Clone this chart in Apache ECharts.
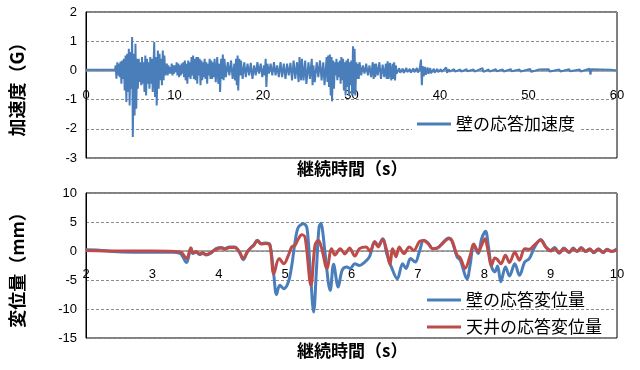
<!DOCTYPE html>
<html><head><meta charset="utf-8">
<script src="https://cdn.jsdelivr.net/npm/echarts@6/dist/echarts.min.js"></script>
<style>html,body{margin:0;padding:0;background:#fff}#c{width:640px;height:370px}</style>
</head><body><div id="c"></div>
<script>
// ---- data ----
const accName = '壁の応答加速度';
const dispNames = ['壁の応答変位量', '天井の応答変位量'];
const accTicksX = [0, 60, 10];      // min, max, interval
const accTicksY = [-3, 2, 1];
const dispTicksX = [2, 10, 1];
const dispTicksY = [-15, 10, 5];

// wall acceleration [time s, G]
const wallAccel = [
[0,0.02],[3.28,0.02],
[3.35,0.17],[3.44,-0.28],[3.54,0.28],[3.63,-0.17],[3.72,0.23],[3.81,-0.23],[3.91,0.30],[4.00,-0.46],[4.10,0.34],[4.19,-0.29],[4.28,0.40],[4.37,-0.69],[4.47,0.51],[4.56,-1.08],[4.66,0.57],[4.75,-0.74],[4.84,0.74],[4.93,-1.20],[5.03,0.63],[5.12,-0.63],[5.21,1.14],[5.29,-2.28],[5.40,0.57],[5.49,-1.54],[5.59,0.91],[5.68,-1.31],[5.77,0.40],[5.86,-0.63],[5.96,0.40],[6.05,-0.40],[6.15,0.28],[6.24,-0.51],[6.33,0.46],[6.42,-0.46],[6.52,0.28],[6.61,-0.74],[6.70,0.51],[6.79,-0.86],[6.89,0.40],[6.98,-0.46],[7.08,0.28],[7.17,-0.63],[7.26,0.46],[7.35,-0.46],[7.45,0.40],[7.54,-0.74],[7.71,0.97],[7.80,-0.91],[7.90,0.46],[7.99,-1.20],[8.12,0.68],[8.21,-0.63],[8.31,0.57],[8.40,-0.34],[8.49,0.40],[8.58,-0.51],[8.68,0.68],[8.77,-0.34],[8.86,0.51],[8.95,-0.17],
[9.13,0.23],[9.22,-0.17],[9.31,0.17],[9.40,-0.11],[9.50,0.11],[9.59,-0.11],[9.69,0.23],[9.78,-0.17],[9.87,0.17],[9.96,-0.11],[10.06,0.17],[10.15,-0.06],[10.24,0.28],[10.33,-0.17],[10.43,0.23],[10.52,-0.23],[10.62,0.17],[10.71,-0.17],[10.80,0.23],[10.89,-0.11],[10.99,0.28],[11.08,-0.23],[11.17,0.34],[11.26,-0.34],[11.36,0.23],[11.45,-0.46],[11.55,0.34],[11.64,-0.23],[11.73,0.28],[11.82,-0.29],[11.92,0.46],[12.01,-0.17],[12.10,0.51],[12.19,-0.29],[12.29,0.40],[12.38,-0.34],[12.48,0.46],[12.57,-0.46],[12.66,0.46],[12.75,-0.17],[12.85,0.40],[12.94,-0.51],[13.04,0.34],[13.13,-0.34],[13.22,0.28],[13.31,-0.23],[13.41,0.40],[13.50,-0.29],[13.60,0.28],[13.69,-0.46],[13.78,0.23],[13.87,-0.17],[13.97,0.40],[14.06,-0.29],[14.15,0.34],[14.24,-0.29],[14.34,0.28],[14.43,-0.23],
[14.53,0.40],[14.66,-0.40],[14.83,0.46],[14.95,-0.46],[15.09,0.23],[15.15,-0.74],[15.27,0.40],[15.36,-0.29],[15.46,0.54],[15.55,-0.34],[15.64,0.40],[15.80,-0.23],[16.02,0.28],[16.20,-0.17],[16.39,0.34],[16.57,-0.29],[16.76,0.23],[16.85,-0.34],[16.95,0.40],[17.04,-0.51],[17.13,0.51],[17.20,-0.69],[17.32,0.40],[17.42,-0.17],[17.51,0.34],[17.70,-0.29],[17.88,0.28],[18.06,-0.23],[18.25,0.23],[18.44,-0.17],[18.62,0.26],[18.81,-0.29],[19.00,0.17],[19.18,-0.17],[19.37,0.28],[19.55,-0.11],[19.74,0.23],[19.92,-0.23],[20.11,0.17],[20.20,-0.17],[20.30,0.40],[20.38,-0.57],[20.50,0.23],[20.67,-0.11],[20.86,0.23],[21.05,-0.17],[21.24,0.28],[21.42,-0.17],[21.60,0.17],[21.79,-0.23],[21.98,0.28],[22.16,-0.23],[22.35,0.23],[22.54,-0.29],[22.72,0.23],[22.91,-0.17],[23.10,0.26],[23.28,-0.34],[23.46,0.34],[23.65,-0.29],[23.84,0.28],[24.02,-0.40],[24.12,0.46],[24.30,-0.34],[24.40,0.40],[24.58,-0.34],[24.77,0.34],[24.90,-0.46],[25.14,0.28],[25.30,-0.29],[25.51,0.40],[25.60,-0.51],
[25.70,0.17],[25.85,-0.40],[26.07,0.28],[26.25,-0.23],[26.44,0.34],[26.62,-0.34],[26.81,0.28],[26.95,-0.51],[27.19,0.46],[27.28,-0.40],[27.37,0.51],[27.46,-0.57],[27.56,0.54],[27.65,-0.86],[27.75,0.46],[27.80,-1.06],[27.93,0.34],[28.02,-0.63],[28.12,0.28],[28.21,-0.17],[28.30,0.40],[28.40,-0.34],[28.49,0.28],[28.58,-0.23],[28.68,0.34],[28.77,-0.46],[28.86,0.46],[28.95,-0.34],[29.05,0.40],[29.14,-0.69],[29.24,0.28],[29.33,-0.86],[29.42,0.34],[29.51,-0.57],[29.61,0.40],[29.70,-0.86],[29.79,0.28],[29.88,-0.51],[29.98,0.34],[30.07,-0.86],[30.17,0.83],[30.26,-0.80],[30.35,0.74],[30.44,-0.86],[30.54,0.28],[30.63,-0.29],[30.73,0.23],[30.82,-0.29],[30.91,0.28],[31.10,-0.17],[31.28,0.17],[31.47,-0.11],[31.66,0.23],[31.85,-0.17],[32.03,0.17],[32.21,-0.23],[32.40,0.28],[32.50,-0.29],[32.59,0.23],[32.68,-0.23],[32.77,0.23],[32.96,-0.17],[33.15,0.28],[33.33,-0.29],[33.52,0.20],[33.70,-0.23],[33.89,0.23],[33.98,-0.29],[34.08,0.31],[34.20,-0.29],[34.34,0.26],[34.50,-0.34],[34.64,0.23],[34.73,-0.29],[34.82,0.28],[34.92,-0.34],[35.01,0.17],[35.10,-0.11],
[35.4,0.08],[35.5,-0.08],[35.8,0.06],[35.9,-0.09],[36.2,0.08],[36.3,-0.06],[36.6,0.05],[36.7,-0.08],[37.0,0.07],[37.1,-0.06],[37.4,0.08],[37.5,-0.07],[37.7,0.05],
[37.85,0.37],[37.95,-0.51],[38.05,0.15],[38.15,-0.20],[38.3,0.12],[38.4,-0.15],[38.6,0.10],[38.7,-0.12],[38.9,0.08],[39.0,-0.10],[39.3,0.06],[39.4,-0.08],[39.7,0.05],[39.8,-0.06],[40.1,0.04],[40.2,-0.05],[40.7,0.10],[40.8,-0.08],[41.0,0.04],[41.1,-0.04],[41.6,0.04],[41.7,-0.04],[42.3,0.03],[42.4,-0.04],[43.0,0.04],[43.1,-0.03],[43.8,0.03],[43.9,-0.04],[44.8,0.08],[44.9,-0.05],[45.5,0.03],[45.6,-0.04],[46.3,0.04],[46.4,-0.03],[47.1,0.03],[47.2,-0.04],[48.0,0.04],[48.1,-0.03],[49.0,0.03],[49.1,-0.04],[50.2,0.05],[50.3,-0.05],[51.2,0.03],[51.3,-0.03],[52.3,0.04],[52.4,-0.04],[53.5,0.03],[53.6,-0.04],[54.6,0.04],[54.7,-0.03],[55.8,0.03],[55.9,-0.04],[56.9,0.06],[57.0,-0.14],[57.1,0.04],[58.2,0.03],[58.3,-0.03],[59.3,0.02],[59.4,-0.03],[60,0]
];

// wall displacement [time s, mm]
const wallDisp = [
[2.0,0.2],[2.2,0.15],[2.4,-0.1],[2.7,-0.2],[3.0,-0.2],[3.3,-0.2],[3.42,-0.45],[3.515,-2.0],[3.58,0.5],[3.61,-0.45],[3.66,-0.2],[3.71,-0.6],[3.76,-0.45],[3.81,-0.7],[3.89,-0.3],[3.96,0.4],[4.04,0.6],[4.09,0.4],[4.16,0.7],[4.24,0.7],[4.31,-0.2],[4.37,-1.5],[4.43,-0.2],[4.47,0.4],[4.53,1.1],[4.58,1.85],[4.64,1.3],[4.71,1.4],[4.77,1.1],[4.83,-4.2],[4.87,-7.5],[4.92,-5.9],[4.98,-6.5],[5.05,-5.3],[5.10,-2.5],[5.15,1.6],[5.20,4.1],[5.28,4.7],[5.33,3.9],[5.38,-3.6],[5.43,-10.5],[5.47,-3.6],[5.51,4.0],[5.54,4.8],[5.57,3.0],[5.60,-0.2],[5.68,-6.8],[5.73,-2.3],[5.80,-6.2],[5.86,-3.3],[5.93,-2.75],[5.98,-3.0],[6.05,-2.2],[6.12,-2.5],[6.20,-1.9],[6.27,-1.0],[6.35,1.6],[6.40,1.0],[6.47,2.1],[6.53,-0.45],[6.60,-2.75],[6.69,-4.8],[6.77,-2.2],[6.82,-3.0],[6.89,-1.3],[6.96,-1.9],[7.02,-0.2],[7.09,1.85],[7.16,1.3],[7.22,0.4],[7.29,0.5],[7.39,1.6],[7.46,2.25],[7.51,1.85],[7.59,-1.0],[7.64,-1.6],[7.74,-4.8],[7.79,-2.2],[7.84,1.0],[7.91,-0.45],[7.96,2.1],[8.02,3.4],[8.06,1.0],[8.11,-2.75],[8.16,-3.6],[8.20,-2.6],[8.25,-5.3],[8.32,-2.75],[8.38,-4.3],[8.46,-2.2],[8.53,-4.2],[8.61,-1.9],[8.68,-1.3],[8.76,0.7],[8.85,2.0],[8.93,0.7],[9.00,0.1],[9.06,0.6],[9.13,-0.4],[9.20,0.5],[9.28,-0.3],[9.34,0.5],[9.40,-0.1],[9.46,0.6],[9.53,-0.1],[9.59,0.4],[9.65,-0.3],[9.72,0.4],[9.79,-0.3],[9.85,0.3],[9.92,-0.1],[10.0,0.4]
];

// ceiling displacement [time s, mm]
const ceilDisp = [
[2.0,0.1],[2.5,0.0],[3.0,0.0],[3.42,-0.15],[3.515,-1.3],[3.58,0.5],[3.61,-0.3],[3.66,-0.1],[3.71,-0.5],[3.76,-0.3],[3.81,-0.6],[3.89,-0.2],[3.96,0.3],[4.04,0.5],[4.09,0.3],[4.16,0.6],[4.24,0.6],[4.31,-0.1],[4.37,-1.3],[4.43,-0.1],[4.47,0.4],[4.53,1.0],[4.58,1.75],[4.64,1.2],[4.71,1.3],[4.77,1.0],[4.83,-3.9],[4.91,-1.3],[4.98,-2.2],[5.05,-0.7],[5.10,0.7],[5.15,1.0],[5.20,2.1],[5.25,2.8],[5.30,2.4],[5.39,-5.9],[5.45,1.0],[5.50,1.85],[5.55,0.5],[5.63,-3.0],[5.70,0.4],[5.75,-0.7],[5.83,0.4],[5.90,-0.5],[5.97,0.5],[6.05,-0.85],[6.12,0.4],[6.22,0.7],[6.28,-0.05],[6.35,1.6],[6.40,0.7],[6.47,2.0],[6.53,0.1],[6.58,-2.35],[6.62,0.4],[6.67,-1.0],[6.72,0.7],[6.79,-0.45],[6.87,0.7],[6.94,0.1],[7.02,1.6],[7.08,1.8],[7.16,1.2],[7.22,0.4],[7.29,0.5],[7.39,1.5],[7.46,2.1],[7.51,1.85],[7.59,-0.7],[7.64,-1.2],[7.71,-3.0],[7.79,-0.7],[7.84,1.2],[7.91,-0.1],[7.96,1.0],[8.01,2.1],[8.05,0.5],[8.11,-2.45],[8.16,-1.2],[8.20,-1.5],[8.25,-2.2],[8.32,-0.75],[8.38,-2.0],[8.46,-0.2],[8.53,-1.6],[8.61,0.4],[8.68,0.3],[8.76,1.1],[8.85,1.85],[8.93,0.6],[9.00,0.0],[9.06,0.4],[9.13,-0.3],[9.20,0.4],[9.28,-0.2],[9.34,0.4],[9.40,-0.05],[9.46,0.5],[9.53,-0.05],[9.59,0.3],[9.65,-0.2],[9.72,0.3],[9.79,-0.2],[9.85,0.2],[9.92,-0.05],[10.0,0.2]
];

// ---- chart ----
const BLUE = '#4A7EBB', RED = '#BE4B48';
const numFont = {fontFamily: 'Liberation Sans, Arial, sans-serif', fontSize: 13, color: '#000'};
const jpFont = 'Noto Sans CJK JP, sans-serif';

const G0 = {left: 80, top: 12, width: 537, height: 146};
const G1 = {left: 80, top: 193, width: 537, height: 145};

// offset that moves a bottom x axis up to the y = 0 line of its grid
function zeroOffset(g, t) {
  const zeroY = g.top + g.height * (t[1] - 0) / (t[1] - t[0]);
  return -(g.top + g.height - zeroY);
}

function xAxisCfg(gi, g, t, ty, margin) {
  return {
    type: 'value', gridIndex: gi, min: t[0], max: t[1], interval: t[2],
    position: 'bottom', offset: zeroOffset(g, ty),
    axisLine: {show: true, onZero: false, lineStyle: {color: '#8c8c8c', width: 1.5}},
    axisTick: {show: false},
    axisLabel: Object.assign({margin: margin, showMinLabel: true, showMaxLabel: true}, numFont),
    splitLine: {show: false}
  };
}
function yAxisCfg(gi, t, name) {
  return {
    type: 'value', gridIndex: gi, min: t[0], max: t[1], interval: t[2],
    name: name, nameLocation: 'middle', nameGap: 60, nameRotate: 90,
    nameTextStyle: {fontFamily: jpFont, fontSize: 18, fontWeight: 'bold', color: '#000'},
    axisLine: {show: true, onZero: false, lineStyle: {color: '#000', width: 1}},
    axisTick: {show: false},
    axisLabel: Object.assign({margin: 9}, numFont),
    splitLine: {show: true, lineStyle: {color: '#8c8c8c', type: [3, 2], width: 1}}
  };
}

const chart = echarts.init(document.getElementById('c'), null, {renderer: 'canvas'});
chart.setOption({
  animation: false,
  backgroundColor: '#fff',
  grid: [
    Object.assign({show: true, borderColor: '#000', borderWidth: 1, backgroundColor: 'transparent'}, G0),
    Object.assign({show: true, borderColor: '#000', borderWidth: 1, backgroundColor: 'transparent'}, G1)
  ],
  xAxis: [xAxisCfg(0, G0, accTicksX, accTicksY, 19), xAxisCfg(1, G1, dispTicksX, dispTicksY, 17)],
  yAxis: [yAxisCfg(0, accTicksY, '加速度（G）'), yAxisCfg(1, dispTicksY, '変位量（mm）')],
  legend: [
    {data: [accName], left: 412, top: 111, icon: 'rect', itemWidth: 34, itemHeight: 3,
     backgroundColor: '#fff', padding: [3, 5, 3, 5],
     textStyle: {fontFamily: jpFont, fontSize: 17, color: '#000', lineHeight: 20}},
    {data: dispNames, left: 422, top: 285, orient: 'vertical', itemGap: 7, icon: 'rect', itemWidth: 34, itemHeight: 3,
     textStyle: {fontFamily: jpFont, fontSize: 17, color: '#000', lineHeight: 20}}
  ],
  graphic: [
    {type: 'text', left: 297, top: 160, style: {text: '継続時間（s）', fontFamily: jpFont, fontSize: 17, fontWeight: 'bold', fill: '#000'}},
    {type: 'text', left: 297, top: 342, style: {text: '継続時間（s）', fontFamily: jpFont, fontSize: 17, fontWeight: 'bold', fill: '#000'}}
  ],
  series: [
    {name: accName, type: 'line', xAxisIndex: 0, yAxisIndex: 0, data: wallAccel, symbol: 'none',
     lineStyle: {color: BLUE, width: 2}, itemStyle: {color: BLUE}},
    {name: dispNames[0], type: 'line', xAxisIndex: 1, yAxisIndex: 1, data: wallDisp, symbol: 'none', smooth: 0.35,
     lineStyle: {color: BLUE, width: 3}, itemStyle: {color: BLUE}},
    {name: dispNames[1], type: 'line', xAxisIndex: 1, yAxisIndex: 1, data: ceilDisp, symbol: 'none', smooth: 0.35,
     lineStyle: {color: RED, width: 3}, itemStyle: {color: RED}}
  ]
});
</script></body></html>
